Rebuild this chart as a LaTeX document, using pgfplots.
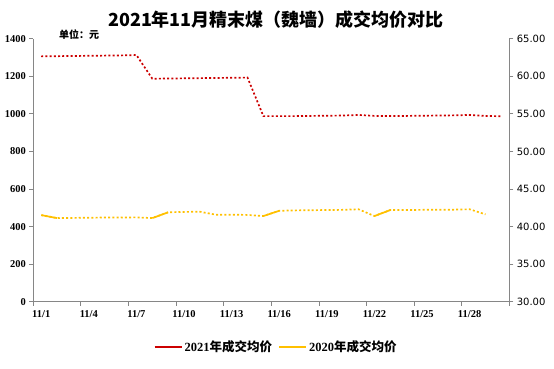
\documentclass[border=0pt]{standalone}
\usepackage{pgfplots}
\pgfplotsset{compat=1.18}
\usepackage{fontspec}
\setmainfont{Liberation Serif}
\newfontfamily\cjk{Noto Sans CJK SC}
\newfontfamily\dejavu{DejaVu Sans}
\definecolor{red21}{RGB}{204,0,0}
\definecolor{yel20}{RGB}{255,192,0}
\definecolor{axgray}{RGB}{134,134,134}
\begin{document}
\begin{tikzpicture}[x=1pt,y=1pt]
\path[use as bounding box] (0,0) rectangle (554,368);
\begin{axis}[
  at={(33.3pt,66.3pt)}, anchor=south west,
  scale only axis, width=476pt, height=263pt,
  xmin=0.5, xmax=30.5, ymin=0, ymax=1400,
  axis y line*=left, axis x line*=bottom,
  axis line style={draw=axgray, line width=0.8pt},
  tick align=outside, major tick length=4pt,
  tick style={draw=axgray, line width=0.8pt},
  xtick={0.5,3.5,...,30.5},
  xticklabels={11/1,11/4,11/7,11/10,11/13,11/16,11/19,11/22,11/25,11/28,{}},
  xticklabel style={xshift=7.93pt, yshift=-1.5pt, font=\bfseries\fontsize{10.5}{12}\selectfont},
  ytick={0,200,...,1400},
  yticklabel style={font=\bfseries\fontsize{10.5}{12}\selectfont},
  /pgf/number format/assume math mode=true,
  /pgf/number format/1000 sep={},
  legend style={at={(0.51,-0.172)}, anchor=center, draw=none, fill=none,
    legend columns=2, font=\bfseries\fontsize{12.5}{14}\selectfont,
    /tikz/every even column/.append style={column sep=4pt}},
  legend cell align=left,
  legend image code/.code={\draw[#1] (0pt,0pt) -- (27pt,0pt);},
]
\addlegendimage{red21, solid, line width=2pt}
\addlegendentry{2021{\cjk\bfseries 年成交均价}}
\addlegendimage{yel20, solid, line width=2pt}
\addlegendentry{2020{\cjk\bfseries 年成交均价}}
\addplot[red21, line width=1.7pt, dash pattern=on 2pt off 2.2pt, forget plot] table {
x y
1 1306
2 1307
3 1308
4 1309
5 1310
6 1311
7 1313
8 1187
9 1188
10 1189
11 1190
12 1191
13 1192
14 1193
15 988
16 988
17 988
18 989
19 990
20 991
21 994
22 989
23 989
24 989
25 990
26 991
27 992
28 994
29 989
30 987
};
\addplot[yel20, line width=1.7pt, dash pattern=on 2pt off 2.2pt, forget plot] table {
x y
1 461
2 445
3 446
4 447
5 448
6 448
7 449
8 445
9 476
10 478
11 479
12 463
13 463
14 462
15 456
16 484
17 486
18 487
19 488
20 489
21 492
22 456
23 488
24 488
25 489
26 489
27 490
28 492
29 465
};
\addplot[yel20, line width=1.7pt, solid, forget plot] coordinates {(1,461) (2,445)};
\addplot[yel20, line width=1.7pt, solid, forget plot] coordinates {(8,445) (9,476)};
\addplot[yel20, line width=1.7pt, solid, forget plot] coordinates {(15,456) (16,484)};
\addplot[yel20, line width=1.7pt, solid, forget plot] coordinates {(22,456) (23,488)};
\end{axis}
\begin{axis}[
  at={(33.3pt,66.3pt)}, anchor=south west,
  scale only axis, width=476pt, height=263pt,
  xmin=0.5, xmax=30.5, ymin=30, ymax=65,
  axis y line*=right, axis x line=none,
  axis line style={draw=axgray, line width=0.8pt},
  tick align=outside, major tick length=4pt,
  tick style={draw=axgray, line width=0.8pt},
  ytick={30,35,...,65},
  yticklabel style={font=\dejavu\fontsize{10}{12}\selectfont,
    /pgf/number format/.cd, fixed, fixed zerofill, precision=2},
  /pgf/number format/assume math mode=true,
]
\addplot[draw=none, forget plot] coordinates {(1,30)};
\end{axis}
\node[font=\cjk\bfseries\fontsize{18}{21}\selectfont] at (276,348) {2021年11月精末煤（魏墙）成交均价对比};
\node[font=\cjk\bfseries\fontsize{10}{12}\selectfont] at (79,333) {单位：元};
\end{tikzpicture}
\end{document}
